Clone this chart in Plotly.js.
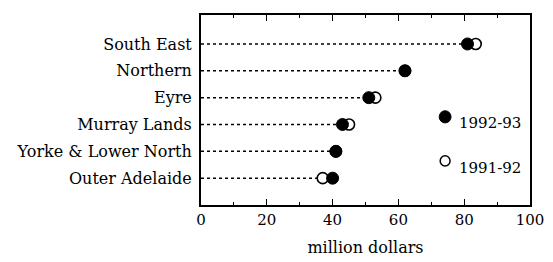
<!DOCTYPE html>
<html>
<head>
<meta charset="utf-8">
<script src="https://cdn.plot.ly/plotly-3.0.1.min.js"></script>
<style>html,body{margin:0;padding:0;background:#fff;}#chart{width:553px;height:262px;}</style>
</head>
<body>
<div id="chart"></div>
<script>
const regions = ["South East", "Northern", "Eyre", "Murray Lands", "Yorke & Lower North", "Outer Adelaide"];
const values9293 = [81, 62, 51, 43, 41, 40];
const values9192 = [83.5, 62, 53, 45, 41, 37];
const seriesNames = ["1992-93", "1991-92"];
const xTicks = [0, 20, 40, 60, 80, 100];

const serif = "DejaVu Serif";

// dotted leader lines from 0 to the smaller of the two values
const lx = [], ly = [];
regions.forEach((r, i) => {
  lx.push(0, Math.min(values9293[i], values9192[i]), null);
  ly.push(r, r, null);
});

const traces = [
  {x: lx, y: ly, mode: "lines", line: {color: "#000", width: 1.5, dash: "dot"}, hoverinfo: "skip", showlegend: false},
  {x: values9192, y: regions, mode: "markers", name: seriesNames[1], showlegend: false,
   marker: {symbol: "circle", size: 11, color: "#fff", line: {color: "#000", width: 1.6}}},
  {x: values9293, y: regions, mode: "markers", name: seriesNames[0], showlegend: false,
   marker: {symbol: "circle", size: 12, color: "#000", line: {color: "#000", width: 1}}}
];

const layout = {
  width: 553, height: 262,
  margin: {l: 201, r: 23, t: 15, b: 57, pad: 0},
  paper_bgcolor: "#fff", plot_bgcolor: "#fff",
  showlegend: false,
  font: {family: serif, color: "#000", size: 14},
  xaxis: {
    range: [0, 100], tickvals: xTicks, ticktext: xTicks.map(String),
    ticks: "inside", ticklen: 6, tickwidth: 1.3, tickcolor: "#000",
    minor: {dtick: 10, ticks: "inside", ticklen: 3, tickwidth: 1, tickcolor: "#000"},
    showline: true, linecolor: "#000", linewidth: 1.8, mirror: "ticks",
    showgrid: false, zeroline: false,
    tickfont: {family: serif, size: 15},
    title: {text: "million dollars", font: {family: serif, size: 16}, standoff: 14}
  },
  yaxis: {
    type: "category", categoryorder: "array", categoryarray: regions,
    range: [6.0, -1.08],
    showline: true, linecolor: "#000", linewidth: 2, mirror: true,
    ticks: "", showgrid: false, zeroline: false,
    tickfont: {family: serif, size: 16}, ticklabelstandoff: 4
  },
  shapes: [
    {type: "circle", xref: "paper", yref: "paper", x0: 0.724, x1: 0.760, y0: 0.432, y1: 0.496,
     fillcolor: "#000", line: {color: "#000", width: 1}},
    {type: "circle", xref: "paper", yref: "paper", x0: 0.727, x1: 0.757, y0: 0.205, y1: 0.259,
     fillcolor: "#fff", line: {color: "#000", width: 1.5}}
  ],
  annotations: [
    {xref: "paper", yref: "paper", x: 0.777, y: 0.432, xanchor: "left", yanchor: "middle",
     text: seriesNames[0], showarrow: false, font: {family: serif, size: 15}},
    {xref: "paper", yref: "paper", x: 0.777, y: 0.195, xanchor: "left", yanchor: "middle",
     text: seriesNames[1], showarrow: false, font: {family: serif, size: 15}}
  ]
};

Plotly.newPlot("chart", traces, layout, {displayModeBar: false, staticPlot: true});
</script>
</body>
</html>
